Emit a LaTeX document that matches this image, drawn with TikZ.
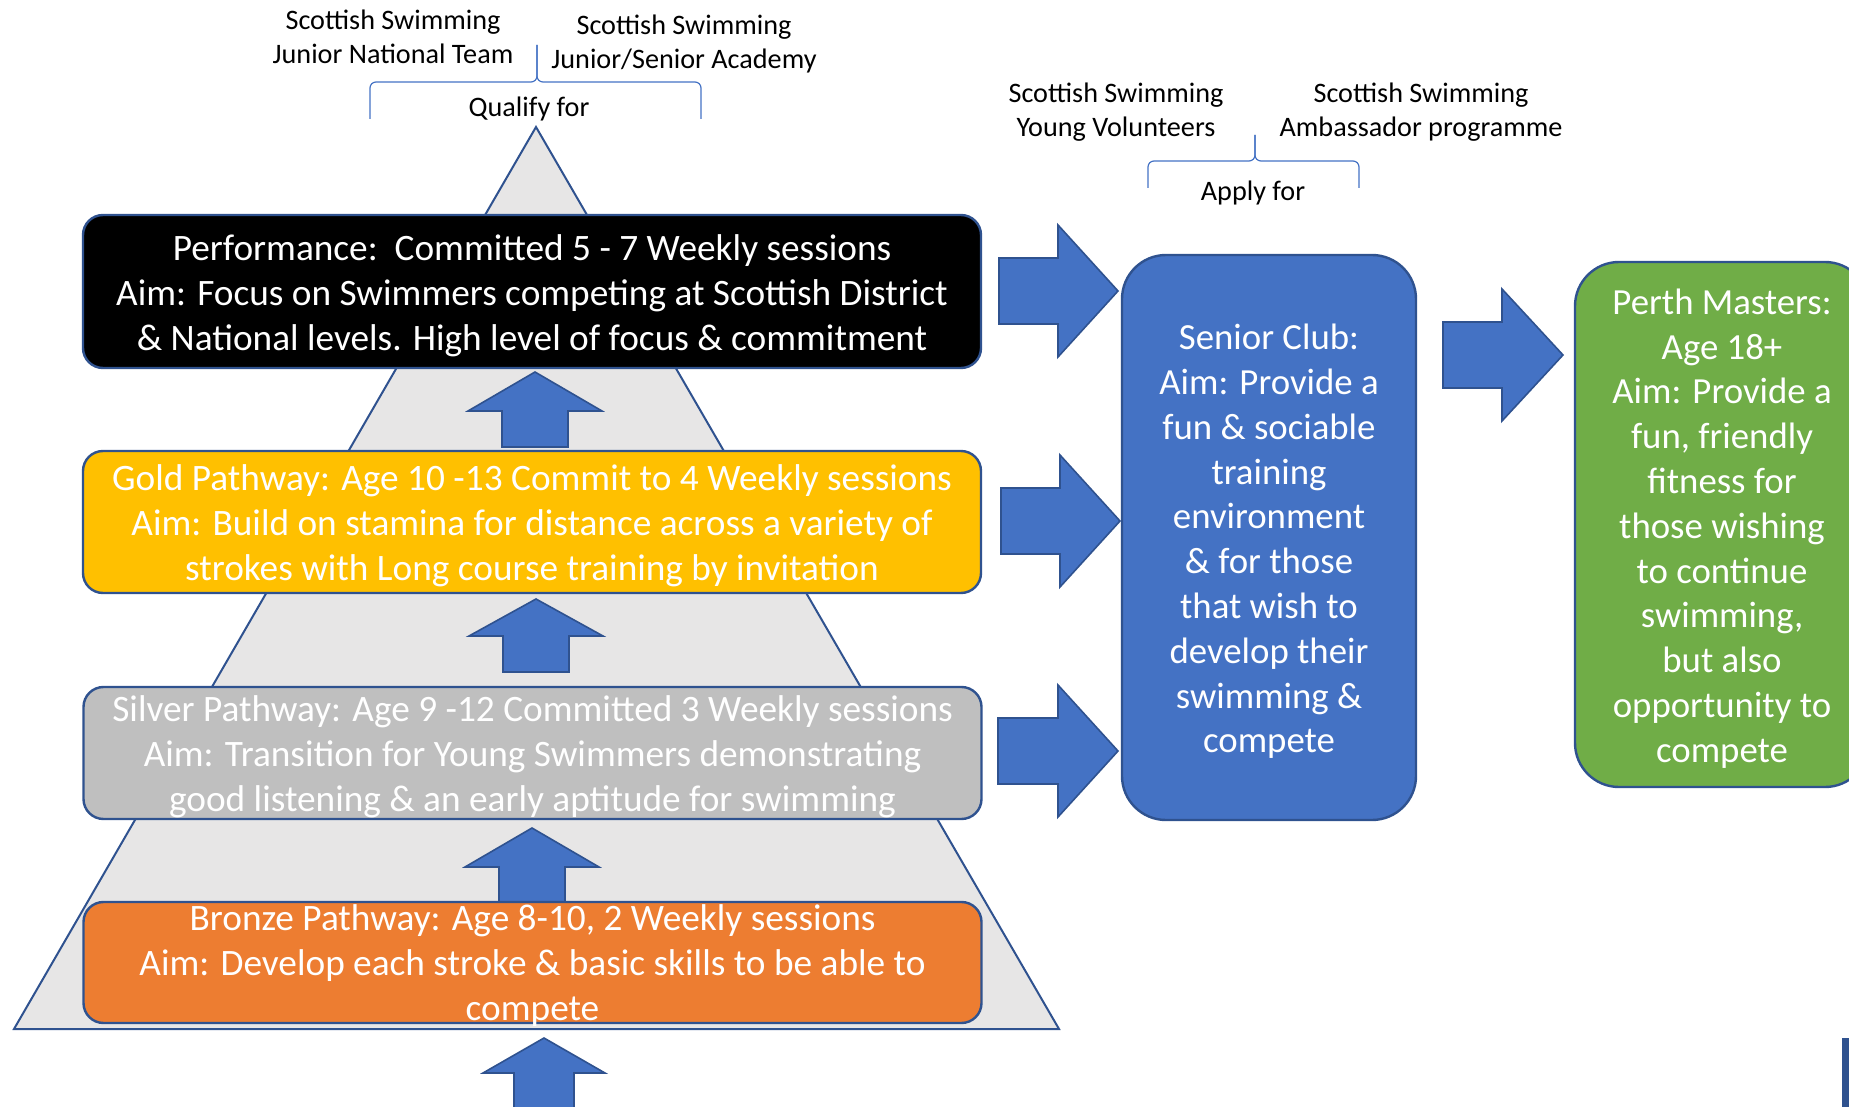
\documentclass[tikz,border=0pt]{standalone}
\usepackage{fontspec}
\setmainfont{Carlito}
\definecolor{bdr}{HTML}{2F528F}
\definecolor{blu}{HTML}{4472C4}
\definecolor{gld}{HTML}{FFC000}
\definecolor{slv}{HTML}{BFBFBF}
\definecolor{brz}{HTML}{ED7D31}
\definecolor{grn}{HTML}{70AD47}
\definecolor{tri}{HTML}{E7E6E6}
\newcommand\boxfont{\fontsize{18.4}{22.4}\selectfont}
\newcommand\wideboxfont{\fontsize{18.65}{22.4}\selectfont}
\newcommand\lblfont{\fontsize{14.1}{17}\selectfont}
\tikzset{
  box/.style={draw=bdr, line width=1.2pt, rounded corners=10pt, inner sep=0pt, minimum width=449pt},
  tallbox/.style={draw=bdr, line width=1.2pt, rounded corners=22pt, inner sep=0pt, minimum width=147pt},
  boxtext/.style={text=white, align=center, inner sep=0pt, font=\wideboxfont},
  talltext/.style={text=white, align=center, inner sep=0pt, font=\boxfont},
  blockarrow/.style={fill=blu, draw=bdr, line width=0.8pt},
  lbl/.style={align=center, font=\lblfont, inner sep=0pt},
  bracket/.style={draw=blu, line width=0.6pt, rounded corners=3pt},
  pyramid/.style={fill=tri, draw=bdr, line width=1pt, line join=miter},
}
% x, tip y, head-base y, bottom y, half head, half shaft
\newcommand\UpArr[6]{\path[blockarrow] (#1,#2) -- ({#1+#5},#3) -- ({#1+#6},#3) -- ({#1+#6},#4)
  -- ({#1-#6},#4) -- ({#1-#6},#3) -- ({#1-#5},#3) -- cycle;}
% y, tip x, head-base x, start x, half head, half shaft
\newcommand\RtArr[6]{\path[blockarrow] (#2,#1) -- (#3,{#1-#5}) -- (#3,{#1-#6}) -- (#4,{#1-#6})
  -- (#4,{#1+#6}) -- (#3,{#1+#6}) -- (#3,{#1+#5}) -- cycle;}
\begin{document}
\begin{tikzpicture}[x=0.5pt,y=-0.5pt]
\useasboundingbox (0,0) rectangle (1849,1107);
\clip (0,0) rectangle (1849,1107);
% pyramid
\path[pyramid] (536,127) -- (1059,1029) -- (14,1029) -- cycle;
% upward arrows
\UpArr{535}{372}{411}{447}{67}{33}
\UpArr{536}{599}{636}{672}{67}{33}
\UpArr{532}{828}{867}{910}{67}{33}
\UpArr{544}{1038}{1073}{1120}{61}{30}
% pathway boxes
\node[box, fill=black, minimum height=76.5pt] (perf) at (532,291.5) {};
\node[boxtext] (perf-t) at ([yshift=-2pt]perf.center)
  {Performance:\ \ Committed 5 - 7 Weekly sessions\\Aim: Focus on Swimmers competing at Scottish District\\\& National levels. High level of focus \& commitment};
\node[box, fill=gld, minimum height=71pt] (gold) at (532,522) {};
\node[boxtext] (gold-t) at ([yshift=-2pt]gold.center)
  {Gold Pathway: Age 10 -13 Commit to 4 Weekly sessions\\Aim: Build on stamina for distance across a variety of\\strokes with Long course training by invitation};
\node[box, fill=slv, minimum height=66pt] (silver) at (532.5,753) {};
\node[boxtext] (silver-t) at ([yshift=-2pt]silver.center)
  {Silver Pathway: Age 9 -12 Committed 3 Weekly sessions\\Aim: Transition for Young Swimmers demonstrating\\good listening \& an early aptitude for swimming};
\node[box, fill=brz, minimum height=60.5pt] (bronze) at (532.5,962.5) {};
\node[boxtext] (bronze-t) at ([yshift=-1.5pt]bronze.center)
  {Bronze Pathway: Age 8-10, 2 Weekly sessions\\Aim: Develop each stroke \& basic skills to be able to\\compete};
% right arrows
\RtArr{291}{1118}{1058}{999}{66}{33}
\RtArr{521}{1120}{1060}{1001}{66}{33}
\RtArr{751}{1118}{1058}{998}{66}{33}
\RtArr{355}{1563}{1502}{1443}{66}{33}
% senior and masters
\node[tallbox, fill=blu, minimum height=282.5pt] (senior) at (1269,537.5) {};
\node[talltext] (senior-t) at ([yshift=-2pt]senior.center)
  {Senior Club:\\Aim: Provide a\\fun \& sociable\\training\\environment\\\& for those\\that wish to\\develop their\\swimming \&\\compete};
\node[tallbox, fill=grn, minimum height=262.5pt] (masters) at (1722,524.5) {};
\node[talltext] (masters-t) at ([yshift=-2pt]masters.center)
  {Perth Masters:\\Age 18+\\Aim: Provide a\\fun, friendly\\fitness for\\those wishing\\to continue\\swimming,\\but also\\opportunity to\\compete};
% brackets
\coordinate (qtip) at (537,45);
\coordinate (atip) at (1255,135);
\draw[bracket] (370,119) -- (370,82) -- (537,82) -- (qtip);
\draw[bracket] (qtip) -- (537,82) -- (701,82) -- (701,119);
\draw[bracket] (1148,188) -- (1148,161) -- (1255,161) -- (atip);
\draw[bracket] (atip) -- (1255,161) -- (1359,161) -- (1359,188);
% labels
\node[lbl] (jnt) at (393,37) {Scottish Swimming\\Junior National Team};
\node[lbl] (acad) at (684,43.5) {Scottish Swimming\\Junior/Senior Academy};
\node[lbl] (qual) at (529,108.5) {Qualify for};
\node[lbl] (yv) at (1116,112.5) {Scottish Swimming\\Young Volunteers};
\node[lbl] (amb) at (1421,112.5) {Scottish Swimming\\Ambassador programme};
\node[lbl] (apply) at (1253,192.5) {Apply for};
% edge of a cut-off shape
\fill[bdr] (1842,1038) rectangle (1852,1110);
\end{tikzpicture}
\end{document}
